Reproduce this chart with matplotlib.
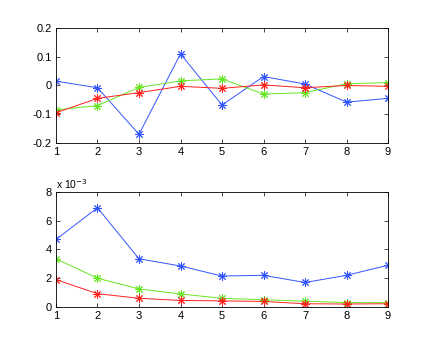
import matplotlib
matplotlib.use("Agg")
import matplotlib.pyplot as plt

x = [1, 2, 3, 4, 5, 6, 7, 8, 9]

top_blue = [0.015, -0.008, -0.17, 0.11, -0.068, 0.031, 0.005, -0.058, -0.045]
top_green = [-0.085, -0.07, -0.007, 0.016, 0.023, -0.03, -0.025, 0.006, 0.01]
top_red = [-0.095, -0.045, -0.025, -0.003, -0.01, 0.002, -0.008, 0.0, -0.003]

# bottom values in units of 1e-3
bot_blue = [4.7, 6.9, 3.35, 2.85, 2.15, 2.2, 1.7, 2.2, 2.9]
bot_green = [3.35, 2.0, 1.25, 0.9, 0.6, 0.5, 0.4, 0.3, 0.3]
bot_red = [1.9, 0.92, 0.6, 0.45, 0.42, 0.38, 0.22, 0.2, 0.22]

c_blue = "#3355ff"
c_green = "#66e622"
c_red = "#ff2020"

plt.rcParams['font.family'] = ['Liberation Sans', 'DejaVu Sans']
plt.rcParams['font.size'] = 8

fig = plt.figure(figsize=(4.29, 3.46), dpi=100)
ax1 = fig.add_axes([0.1305, 0.587, 0.774, 0.332])
ax2 = fig.add_axes([0.1305, 0.113, 0.774, 0.332])

kw = dict(marker=(8, 2, 0), markersize=6, linewidth=0.7, markeredgewidth=0.7)
for ax, series in ((ax1, (top_blue, top_green, top_red)), (ax2, (bot_blue, bot_green, bot_red))):
    for vals, c in zip(series, (c_blue, c_green, c_red)):
        ax.plot(x, vals, color=c, **kw)
    ax.set_xlim(1, 9)
    ax.set_xticks(x)
    ax.tick_params(direction='in', length=3, width=0.5, top=True, right=True, pad=3)
    for s in ax.spines.values():
        s.set_linewidth(0.6)

ax1.set_ylim(-0.2, 0.2)
ax1.set_yticks([-0.2, -0.1, 0, 0.1, 0.2])
ax1.set_yticklabels(['-0.2', '-0.1', '0', '0.1', '0.2'])

ax2.set_ylim(0, 8)
ax2.set_yticks([0, 2, 4, 6, 8])
ax2.set_yticklabels(['0', '2', '4', '6', '8'])
ax2.text(0.0, 1.01, r'x 10$^{-3}$', transform=ax2.transAxes, ha='left', va='bottom', fontsize=7.5)

fig.savefig("out.png", dpi=100)
